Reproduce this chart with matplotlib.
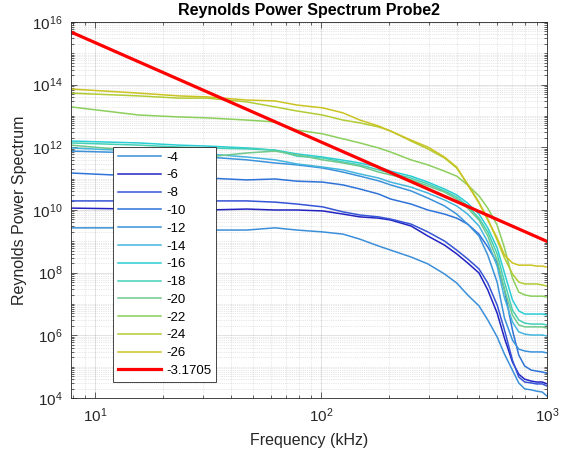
import numpy as np
import matplotlib
matplotlib.use("Agg")
import matplotlib.pyplot as plt
from matplotlib.ticker import LogLocator, NullFormatter

plt.rcParams['font.family'] = ['Liberation Sans', 'DejaVu Sans']

# Frequency bins (kHz) -- multiples of the 7.8125 kHz resolution
freq_khz = [7.8125, 15.625, 23.4375, 31.25, 46.875, 62.5, 78.125, 101.5625,
            125.0, 148.4375, 179.6875, 203.125, 250.0, 296.875, 351.5625,
            398.4375, 445.3125, 500.0, 546.875, 601.5625, 648.4375, 703.125,
            750.0, 796.875, 851.5625, 898.4375, 953.125, 1000.0]

# log10 of the Reynolds power spectrum for each probe position
s04 = [9.43, 9.43, 9.39, 9.36, 9.36, 9.43, 9.36, 9.30, 9.23, 9.07, 8.85, 8.72, 8.50, 8.28,
       7.96, 7.67, 7.29, 6.94, 6.49, 5.95, 5.40, 4.89, 4.48, 4.29, 4.26, 4.22, 4.19, 4.06]
s06 = [10.06, 10.03, 10.00, 10.00, 10.03, 10.00, 10.00, 9.97, 9.87, 9.78, 9.74, 9.68, 9.49, 9.17,
       8.88, 8.60, 8.31, 7.99, 7.45, 6.71, 5.91, 5.15, 4.76, 4.60, 4.54, 4.51, 4.51, 4.45]
s08 = [10.29, 10.29, 10.32, 10.29, 10.29, 10.25, 10.19, 10.10, 9.94, 9.84, 9.78, 9.71, 9.55, 9.30,
       9.01, 8.72, 8.44, 8.12, 7.67, 6.97, 6.17, 5.21, 4.67, 4.51, 4.48, 4.45, 4.45, 4.38]
s10 = [11.18, 11.08, 11.05, 11.02, 10.96, 10.99, 10.92, 10.89, 10.80, 10.67, 10.51, 10.35, 10.19, 10.00,
       9.87, 9.74, 9.55, 9.23, 8.82, 8.31, 7.45, 6.17, 5.37, 5.02, 4.89, 4.86, 4.83, 4.79]
s12 = [11.88, 11.82, 11.72, 11.69, 11.60, 11.50, 11.44, 11.34, 11.21, 11.08, 10.93, 10.80, 10.61, 10.38,
       10.13, 9.87, 9.55, 9.17, 8.56, 7.70, 6.55, 5.85, 5.56, 5.50, 5.47, 5.47, 5.47, 5.44]
s14 = [11.98, 11.88, 11.82, 11.79, 11.69, 11.60, 11.47, 11.37, 11.28, 11.15, 11.02, 10.89, 10.73, 10.54,
       10.32, 10.13, 9.87, 9.49, 8.98, 8.21, 7.19, 6.43, 6.11, 6.04, 6.01, 6.01, 6.01, 5.98]
s16 = [12.20, 12.14, 12.07, 12.04, 11.98, 11.91, 11.79, 11.69, 11.59, 11.50, 11.37, 11.24, 11.08, 10.89,
       10.67, 10.48, 10.22, 9.87, 9.43, 8.79, 7.99, 7.13, 6.78, 6.68, 6.68, 6.68, 6.68, 6.65]
s18 = [12.14, 12.07, 12.01, 11.98, 11.95, 11.91, 11.72, 11.66, 11.53, 11.44, 11.28, 11.18, 11.02, 10.83,
       10.61, 10.41, 10.13, 9.74, 9.30, 8.60, 7.70, 6.81, 6.49, 6.39, 6.36, 6.36, 6.36, 6.33]
s20 = [12.07, 11.88, 11.72, 11.69, 11.82, 11.88, 11.76, 11.60, 11.50, 11.40, 11.21, 11.12, 10.96, 10.77,
       10.57, 10.35, 10.06, 9.68, 9.17, 8.40, 7.45, 6.65, 6.33, 6.27, 6.27, 6.27, 6.27, 6.23]
s22 = [13.29, 13.03, 12.97, 12.94, 12.87, 12.81, 12.55, 12.43, 12.27, 12.14, 11.98, 11.85, 11.60, 11.44,
       11.24, 11.08, 10.80, 10.45, 10.06, 9.52, 8.79, 7.83, 7.38, 7.29, 7.25, 7.25, 7.25, 7.22]
s24 = [13.73, 13.64, 13.57, 13.57, 13.45, 13.29, 13.16, 13.03, 12.87, 12.78, 12.65, 12.52, 12.20, 11.95,
       11.66, 11.34, 10.83, 10.25, 9.71, 9.04, 8.47, 7.96, 7.70, 7.64, 7.64, 7.64, 7.61, 7.57]
s26 = [13.86, 13.73, 13.64, 13.61, 13.51, 13.48, 13.35, 13.26, 13.10, 12.87, 12.68, 12.52, 12.23, 12.01,
       11.69, 11.37, 10.80, 10.22, 9.68, 9.11, 8.56, 8.31, 8.24, 8.24, 8.24, 8.21, 8.21, 8.18]

series_labels = ['-4', '-6', '-8', '-10', '-12', '-14', '-16', '-18', '-20', '-22', '-24', '-26']
series_data = [s04, s06, s08, s10, s12, s14, s16, s18, s20, s22, s24, s26]
series_colors = ['#3b8fd9', '#2323c2', '#3655d6', '#2f73d8', '#3b92db', '#45b5de',
                 '#29cdd3', '#44d0b5', '#70c98c', '#8ccf5c', '#b2cc34', '#cbc321']

# Power-law reference line: log10(P) = fit_logc + fit_slope * log10(f)
fit_slope = -3.1705
fit_logc = 18.51

fig = plt.figure(figsize=(5.70, 4.57), dpi=100)
ax = fig.add_axes([0.1246, 0.1291, 0.8350, 0.8228])

f = np.array(freq_khz)
for lab, vals, col in zip(series_labels, series_data, series_colors):
    ax.plot(f, 10.0 ** np.array(vals), color=col, lw=1.1, label=lab)

fl = np.array([freq_khz[0], freq_khz[-1]])
ax.plot(fl, 10.0 ** (fit_logc + fit_slope * np.log10(fl)), color='#ff0000', lw=2.3,
        label=f'{fit_slope:.4f}')

ax.set_xscale('log')
ax.set_yscale('log')
ax.set_xlim(freq_khz[0], freq_khz[-1])
ax.set_ylim(1e4, 1e16)

ax.set_yticks([10.0 ** k for k in range(4, 17, 2)])
ax.yaxis.set_minor_locator(LogLocator(base=10, subs=np.arange(1, 10), numticks=40))
ax.yaxis.set_minor_formatter(NullFormatter())
ax.xaxis.set_minor_locator(LogLocator(base=10, subs=np.arange(2, 10), numticks=20))
ax.xaxis.set_minor_formatter(NullFormatter())

ax.grid(True, which='major', color='#262626', alpha=0.15, lw=0.6, ls='-')
ax.grid(True, which='minor', color='#262626', alpha=0.22, lw=0.5, ls=':')
ax.set_axisbelow(True)

for sp in ax.spines.values():
    sp.set_color('#262626')
    sp.set_linewidth(0.6)
ax.tick_params(which='both', direction='in', top=True, right=True, colors='#262626',
               labelsize=11, width=0.5)
ax.tick_params(which='major', length=4, pad=6)
ax.tick_params(which='minor', length=2)

ax.set_title('Reynolds Power Spectrum Probe2', fontsize=11.5, fontweight='bold', pad=5)
ax.set_xlabel('Frequency (kHz)', fontsize=11.5, color='#262626', labelpad=6)
ax.set_ylabel('Reynolds Power Spectrum', fontsize=11.5, color='#262626', labelpad=4)

leg = ax.legend(loc='upper left', bbox_to_anchor=(0.088, 0.668), fontsize=9.5,
                frameon=True, fancybox=False, framealpha=1, edgecolor='#262626',
                handlelength=3.3, handletextpad=0.4, labelspacing=0.42, borderpad=0.35,
                borderaxespad=0)
leg.get_frame().set_linewidth(0.6)

fig.savefig('out.png', dpi=100)
